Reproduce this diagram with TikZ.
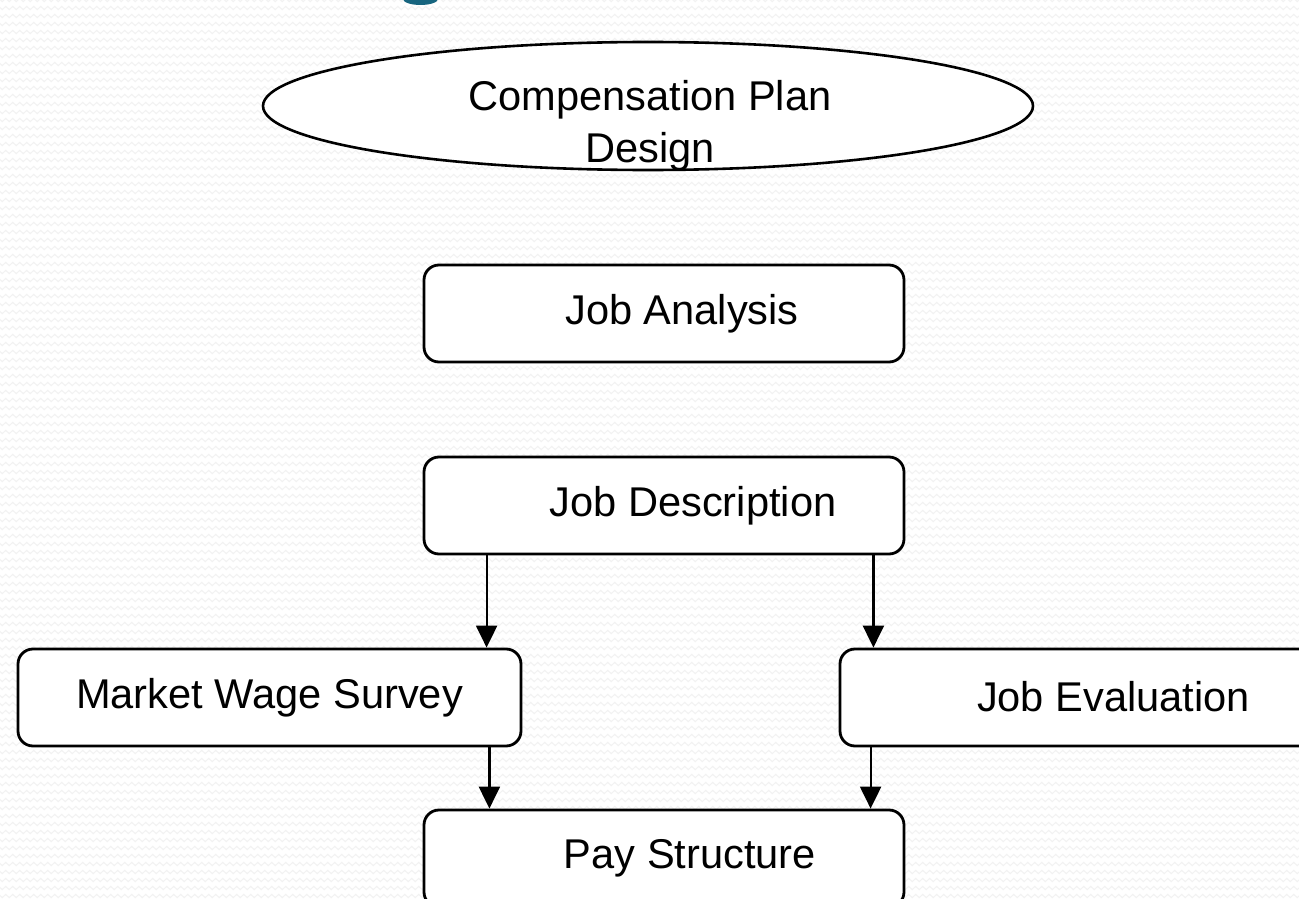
\documentclass[tikz,border=0pt]{standalone}
\usepackage{fontspec}
\setmainfont{Liberation Sans}
\usetikzlibrary{shapes.geometric,arrows.meta,decorations.pathmorphing}

\definecolor{titleteal}{HTML}{17657F}
\definecolor{zigzag}{HTML}{F2F2F2}

\tikzset{
  stepbox/.style={draw=black, line width=2.8pt, rounded corners=15pt, fill=white,
    minimum width=480pt, minimum height=97pt, inner sep=0pt,
    font=\fontsize{41.6}{50}\selectfont},
  flowarrow/.style={draw=black, line width=2.2pt,
    -{Triangle[width=21pt,length=22pt]}},
  bgzig/.style={draw=zigzag, line width=1pt, decorate,
    decoration={zigzag, segment length=7pt, amplitude=1.6pt}}
}

\begin{document}
\begin{tikzpicture}[x=1pt, y=-1pt]
  \useasboundingbox (0,0) rectangle (1299,899);
  \clip (0,0) rectangle (1299,899);

  % faint zigzag paper texture
  \fill[white] (0,0) rectangle (1299,899);
  \foreach \k in {0,...,113}
    \draw[bgzig] (-10, 8*\k) -- (1310, 8*\k);

  % descender of the title letter above the frame
  \fill[titleteal] (420.5,-1) ellipse (17.5pt and 6pt);

  % top ellipse
  \node[ellipse, draw=black, line width=2.6pt, fill=white,
        minimum width=770pt, minimum height=128pt, inner sep=0pt,
        label={[align=center, yshift=-20pt, xshift=2pt,
                font=\fontsize{41.6}{52}\selectfont]center:Compensation Plan\\Design}]
        (cpd) at (648,106) {};

  % process boxes
  \node[stepbox] (ja)  at (664,313.5)   {\hspace*{36pt}Job Analysis};
  \node[stepbox] (jd)  at (664,505.5)   {\hspace*{58pt}Job Description};
  \node[stepbox, minimum width=503pt] (mws) at (269.5,697.5) {Market Wage Survey};
  \node[stepbox, minimum width=503pt] (je)  at (1091.5,697.5) {\hspace*{44pt}\raisebox{2pt}{Job Evaluation}};
  \node[stepbox] (ps)  at (664,858.5)   {\hspace*{52pt}\raisebox{3pt}{Pay Structure}};

  % connectors
  \draw[flowarrow] ([xshift=64pt]jd.south west) -- ([xshift=64pt]jd.south west |- mws.north);
  \draw[flowarrow] ([xshift=-32pt]jd.south east) -- ([xshift=-32pt]jd.south east |- je.north);
  \draw[flowarrow] ([xshift=-33pt]mws.south east) -- ([xshift=-33pt]mws.south east |- ps.north);
  \draw[flowarrow] ([xshift=32pt]je.south west) -- ([xshift=32pt]je.south west |- ps.north);
\end{tikzpicture}
\end{document}
